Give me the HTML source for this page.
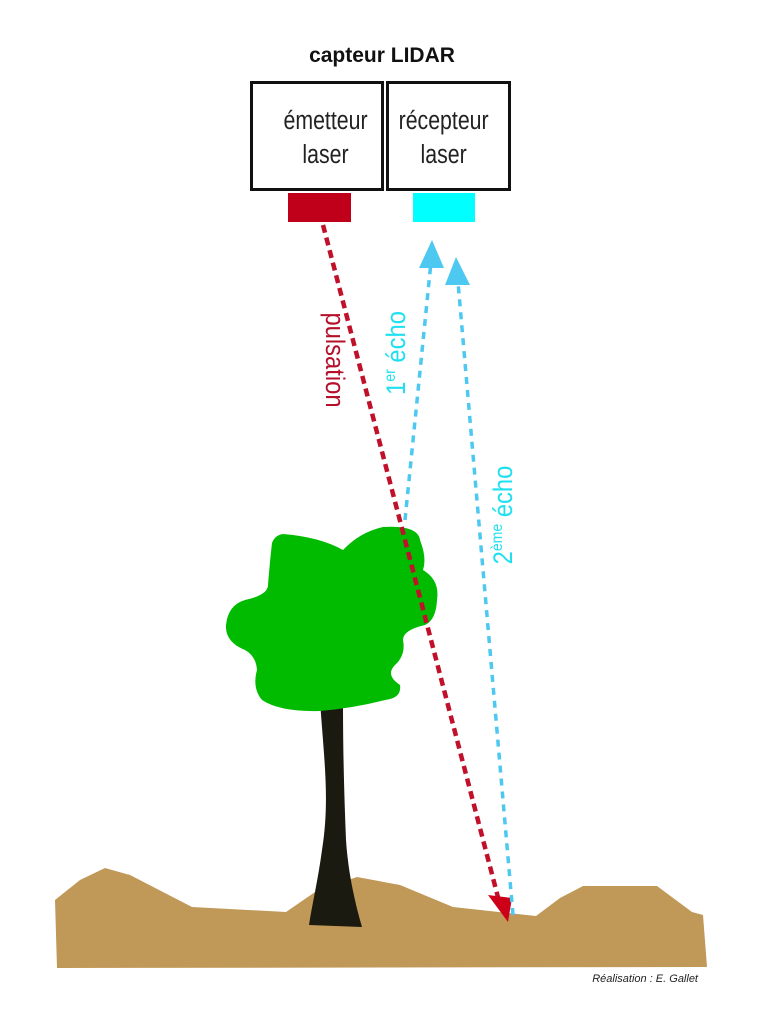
<!DOCTYPE html>
<html><head><meta charset="utf-8"><style>
html,body{margin:0;padding:0;background:#fff;}
svg{display:block;}
text{font-family:"Liberation Sans",Arial,sans-serif;}
</style></head><body>
<svg width="760" height="1024" viewBox="0 0 760 1024" xmlns="http://www.w3.org/2000/svg">
<rect width="760" height="1024" fill="#fff"/>
<text x="382" y="62" font-size="21" font-weight="bold" text-anchor="middle" fill="#111">capteur LIDAR</text>
<rect x="251.5" y="82.5" width="131" height="107" fill="#fff" stroke="#111" stroke-width="3"/>
<rect x="387.5" y="82.5" width="122" height="107" fill="#fff" stroke="#111" stroke-width="3"/>
<g font-size="26" fill="#222" text-anchor="middle" transform="scale(0.82,1)">
<text x="397" y="129">émetteur</text><text x="397" y="163">laser</text>
<text x="541" y="129">récepteur</text><text x="541" y="163">laser</text>
</g>
<rect x="288" y="193" width="63" height="29" fill="#c0001a"/>
<rect x="413" y="193" width="62" height="29" fill="#00ffff"/>
<path d="M55,900 L80,880 L105,868 L130,875 L192,907 L286,912 L318,890 L357,877 L400,885 L453,907 L536,916 L560,898 L583,886 L657,886 L692,912 L703,915 L707,967 L57,968 Z" fill="#c09858"/>
<path d="M320,700 C324,760 330,800 322,850 C318,880 312,905 309,925 L362,927 C354,900 348,870 346,840 C344,790 343,750 343,700 Z" fill="#1a1a10"/>
<path d="M272,543 Q275,535 283,534 Q320,537 343,550 Q360,532 383,527 Q418,525 420,540 Q427,558 423,570 Q440,580 437,600 Q436,620 425,625 Q403,630 403,640 Q406,655 395,665 Q385,675 400,685 Q402,698 385,700 Q355,708 320,711 Q280,712 262,700 Q252,688 257,670 Q256,656 245,650 Q225,642 226,625 Q228,605 245,600 Q268,595 268,585 Q270,560 272,543 Z" fill="#00bb00"/>
<line x1="323" y1="225" x2="500" y2="905" stroke="#c0102a" stroke-width="4.5" stroke-dasharray="8,5"/>
<polygon points="508,922 488,895 512,898" fill="#cc0018"/>
<line x1="405" y1="520" x2="431" y2="262" stroke="#4dc8f0" stroke-width="3.5" stroke-dasharray="7,6"/>
<polygon points="432,240 419,268 444,268" fill="#4dc8f0"/>
<line x1="513" y1="915" x2="458" y2="282" stroke="#4dc8f0" stroke-width="3.5" stroke-dasharray="7,6"/>
<polygon points="456,257 445,285 470,285" fill="#4dc8f0"/>
<text transform="translate(326,360) rotate(90) scale(0.88,1)" font-size="27" fill="#b5102a" text-anchor="middle">pulsation</text>
<text transform="translate(405,353) rotate(-90) scale(0.88,1)" font-size="27" fill="#1ee0f0" text-anchor="middle">1<tspan font-size="16" dy="-10">er</tspan><tspan dy="10"> écho</tspan></text>
<text transform="translate(512,515) rotate(-90) scale(0.88,1)" font-size="27" fill="#1ee0f0" text-anchor="middle">2<tspan font-size="16" dy="-10">ème</tspan><tspan dy="10"> écho</tspan></text>
<text x="698" y="982" font-size="11" font-style="italic" fill="#222" text-anchor="end">Réalisation : E. Gallet</text>
</svg>
</body></html>
